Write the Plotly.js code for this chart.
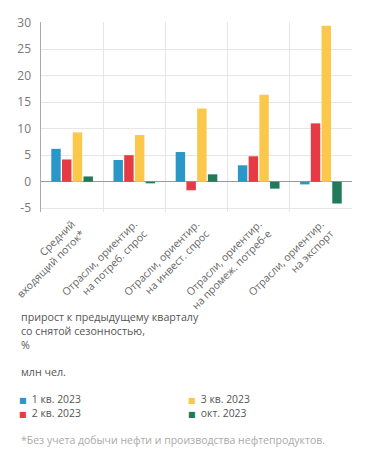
<!DOCTYPE html>
<html>
<head>
<meta charset="utf-8">
<script src="https://cdn.plot.ly/plotly-3.0.1.min.js"></script>
<style>html,body{margin:0;padding:0;background:#fff;}#chart{width:371px;height:462px;}</style>
</head>
<body>
<div id="chart"></div>
<script>
const categories = [
  "Средний<br>входящий поток*",
  "Отрасли, ориентир.<br>на потреб. спрос",
  "Отрасли, ориентир.<br>на инвест. спрос",
  "Отрасли, ориентир.<br>на промеж. потреб-е",
  "Отрасли, ориентир.<br>на экспорт"
];
const seriesNames = ["1 кв. 2023", "2 кв. 2023", "3 кв. 2023", "окт. 2023"];
const q1_2023 = [6.2, 4.1, 5.6, 3.1, -0.5];
const q2_2023 = [4.2, 5.0, -1.6, 4.8, 11.0];
const q3_2023 = [9.3, 8.8, 13.8, 16.4, 29.4];
const oct_2023 = [1.0, -0.3, 1.4, -1.3, -4.1];
const yTicks = [-5, 0, 5, 10, 15, 20, 25, 30];

const colors = ["#2b97c8", "#e63b44", "#fbc84c", "#217a58"];
const values = [q1_2023, q2_2023, q3_2023, oct_2023];

const font = "Open Sans, sans-serif";
const traces = values.map((v, i) => ({
  type: "bar",
  x: categories,
  y: v,
  name: seriesNames[i],
  marker: {color: colors[i]},
  showlegend: false,
  hoverinfo: "skip"
}));

const H = 190, B = 212, L = 40.7, W = 311.3;
const py = p => (B - p) / H;
const px = p => (p - L) / W;

// legend drawn as two text columns: series 0,1 in column 1; series 2,3 in column 2
const legendItem = i =>
  '<span style="color:' + colors[i] + ';font-size:8px;font-family:DejaVu Sans">■</span>\u2002' + seriesNames[i];
const legendCols = [[0, 1], [2, 3]];
const legendX = [17, 186];
const legendAnn = legendCols.map((col, c) => ({
  xref: "paper", yref: "paper", x: px(legendX[c]), y: py(405.5), xanchor: "left", yanchor: "middle", align: "left",
  showarrow: false, text: col.map(legendItem).join("<br>"),
  font: {family: font, size: 10.4, color: "#555"}
}));

const layout = {
  width: 371, height: 462,
  margin: {l: L, r: 371 - L - W, t: 22, b: 250, autoexpand: false},
  paper_bgcolor: "#fff", plot_bgcolor: "#fff",
  font: {family: font, color: "#555", size: 11},
  barmode: "group", bargap: 0.31, bargroupgap: 0.12,
  showlegend: false,
  xaxis: {
    type: "category",
    tickangle: -45,
    tickson: "boundaries",
    showgrid: true, gridcolor: "#e6e6e6", gridwidth: 1,
    ticks: "", showline: false, automargin: false,
    ticklabelstandoff: 3,
    tickfont: {family: font, size: 10.5, color: "#666"},
    fixedrange: true
  },
  yaxis: {
    range: [-5.7, 30.1],
    tickvals: yTicks,
    ticktext: yTicks.map(String),
    showgrid: true, gridcolor: "#e6e6e6", gridwidth: 1,
    zeroline: true, zerolinecolor: "#999", zerolinewidth: 1,
    showline: true, linecolor: "#aaa", linewidth: 1.5,
    ticks: "", ticklabelstandoff: 6, automargin: false,
    tickfont: {family: font, size: 12, color: "#777"},
    fixedrange: true
  },
  annotations: [
    {xref: "paper", yref: "paper", x: px(19), y: py(331), xanchor: "left", yanchor: "middle", align: "left",
     showarrow: false, text: "прирост к предыдущему кварталу<br>со снятой сезонностью,<br>%",
     font: {family: font, size: 10.7, color: "#555"}},
    {xref: "paper", yref: "paper", x: px(19), y: py(372), xanchor: "left", yanchor: "middle", align: "left",
     showarrow: false, text: "млн чел.", font: {family: font, size: 10.7, color: "#555"}},
    {xref: "paper", yref: "paper", x: px(19), y: py(440), xanchor: "left", yanchor: "middle", align: "left",
     showarrow: false, text: "*Без учета добычи нефти и производства нефтепродуктов.",
     font: {family: font, size: 10.5, color: "#aaa"}}
  ].concat(legendAnn)
};

Plotly.newPlot("chart", traces, layout, {displayModeBar: false, staticPlot: true});
</script>
</body>
</html>
